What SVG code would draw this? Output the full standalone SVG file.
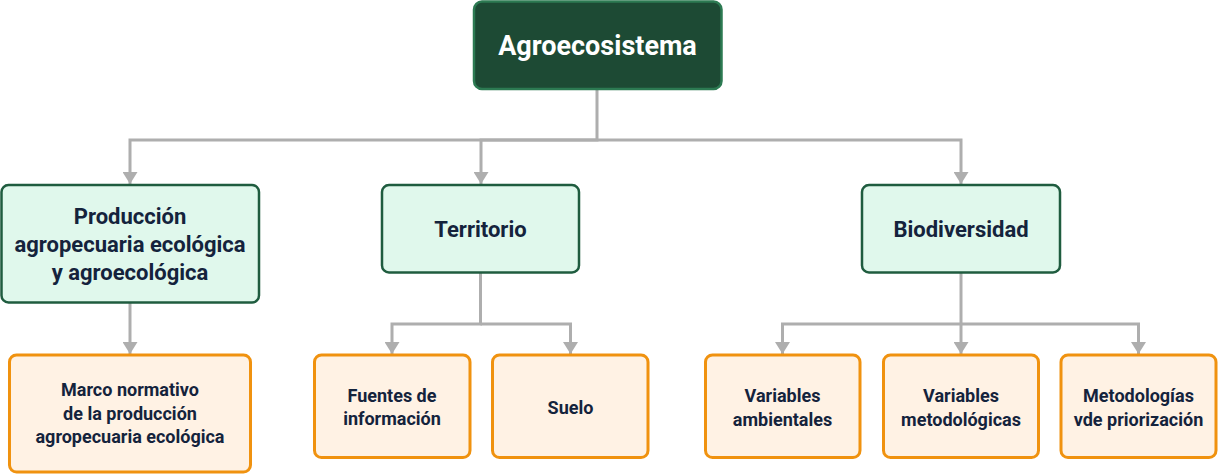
<svg xmlns="http://www.w3.org/2000/svg" width="1218" height="474" viewBox="0 0 1218 474">
<style>
.root rect{fill:#1d4a34;stroke:#2c7a52;stroke-width:2.5}
.mid rect{fill:#e0f8ec;stroke:#1f5c3f;stroke-width:2.5}
.leaf rect{fill:#fff2e4;stroke:#f0920f;stroke-width:3}
text{font-family:Roboto,"Liberation Sans",sans-serif;font-weight:700;text-anchor:middle;dominant-baseline:central;fill:#14233c}
.root text{fill:#ffffff;font-size:27px}
.mid text{font-size:22px}
.leaf text{font-size:18px}
.conn path{fill:none;stroke:#aeaeae;stroke-width:3}
</style>
<defs>
<marker id="arr" markerUnits="userSpaceOnUse" markerWidth="12" markerHeight="15" viewBox="0 0 12 15" refX="12" refY="7.5" orient="auto">
<path d="M0,0 L12,7.5 L0,15 z" fill="#aeaeae"/>
</marker>
</defs>
<g id="connectors" class="conn">
<path d="M597,89 V140 H130 V184" marker-end="url(#arr)"/>
<path d="M597,140 H481 V184" marker-end="url(#arr)"/>
<path d="M597,140 H961 V184" marker-end="url(#arr)"/>
<path d="M130,303 V354" marker-end="url(#arr)"/>
<path d="M480.5,273 V324 H392 V354" marker-end="url(#arr)"/>
<path d="M480.5,324 H570.5 V354" marker-end="url(#arr)"/>
<path d="M961,273 V354" marker-end="url(#arr)"/>
<path d="M961,324 H782.5 V354" marker-end="url(#arr)"/>
<path d="M961,324 H1138.5 V354" marker-end="url(#arr)"/>
</g>
<g id="agroecosistema" class="root">
<rect x="474" y="1.5" width="247.5" height="87.5" rx="8"/>
<text x="597.5" y="46">Agroecosistema</text>
</g>
<g id="produccion" class="mid">
<rect x="1.5" y="185" width="257.5" height="117.5" rx="7"/>
<text x="130" y="216">Producción</text>
<text x="130" y="244">agropecuaria ecológica</text>
<text x="130" y="272">y agroecológica</text>
</g>
<g id="territorio" class="mid">
<rect x="382" y="185" width="197" height="87.5" rx="7"/>
<text x="480.5" y="229">Territorio</text>
</g>
<g id="biodiversidad" class="mid">
<rect x="862" y="185" width="198" height="87.5" rx="7"/>
<text x="961" y="229">Biodiversidad</text>
</g>
<g id="marco" class="leaf">
<rect x="9.5" y="355" width="241" height="117" rx="7"/>
<text x="130" y="389.5">Marco normativo</text>
<text x="130" y="413">de la producción</text>
<text x="130" y="436.5">agropecuaria ecológica</text>
</g>
<g id="fuentes" class="leaf">
<rect x="314.5" y="355" width="155.5" height="102.5" rx="7"/>
<text x="392" y="395">Fuentes de</text>
<text x="392" y="418">información</text>
</g>
<g id="suelo" class="leaf">
<rect x="492.5" y="355" width="155.5" height="102.5" rx="7"/>
<text x="570.5" y="407">Suelo</text>
</g>
<g id="ambientales" class="leaf">
<rect x="705.5" y="355" width="154.5" height="102.5" rx="7"/>
<text x="782.5" y="395">Variables</text>
<text x="782.5" y="419">ambientales</text>
</g>
<g id="metodologicas" class="leaf">
<rect x="883.5" y="355" width="155" height="102.5" rx="7"/>
<text x="961" y="395">Variables</text>
<text x="961" y="419">metodológicas</text>
</g>
<g id="priorizacion" class="leaf">
<rect x="1061" y="355" width="155" height="102.5" rx="7"/>
<text x="1138.5" y="395">Metodologías</text>
<text x="1138.5" y="419">vde priorización</text>
</g>
</svg>
